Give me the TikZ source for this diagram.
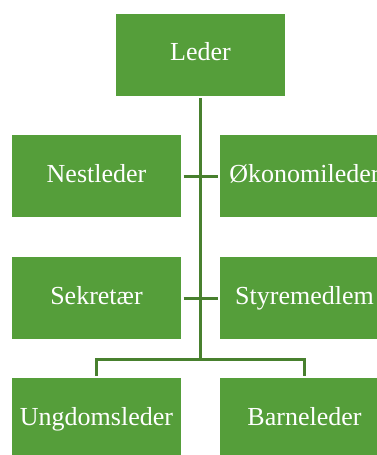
\documentclass[tikz,border=0pt]{standalone}
\usepackage{fontspec}
\setmainfont{Liberation Serif}
\usepackage{xcolor}
\usepackage{tikz}
\usetikzlibrary{positioning}

\definecolor{boxgreen}{RGB}{85,158,58}
\definecolor{linegreen}{RGB}{72,128,46}

\begin{document}
\begin{tikzpicture}[x=1pt,y=-1pt,
  rolle/.style={rectangle,fill=boxgreen,text=white,minimum width=169pt,minimum height=82pt,
    inner sep=0pt,outer sep=2.5pt,text height=17pt,text depth=5pt,
    font=\rmfamily\fontsize{26}{30}\selectfont},
  kobling/.style={linegreen,line width=3pt}]
  \useasboundingbox (0,0) rectangle (377,455);
  \node[rolle] (leder) at (200.5,54.5) {Leder};
  \node[rolle] (nest) at (96.5,176) {Nestleder};
  \node[rolle] (oko) at (304.5,176) {Økonomileder};
  \node[rolle] (sekr) at (96.5,298) {Sekretær};
  \node[rolle] (styre) at (304.5,298) {Styremedlem};
  \node[rolle] (ung) at (96.5,419) {Ungdomsleder};
  \node[rolle] (barn) at (304.5,419) {Barneleder};
  \coordinate (hub) at (leder.south |- 0,359);
  \draw[kobling] (leder.south) -- (hub); % stammen ned fra lederen
  \foreach \a/\b in {nest/oko,sekr/styre}
  \draw[kobling] (\a.east) -- (\b.west);
  \draw[kobling] (ung.north) |- (hub) -| (barn.north);
\end{tikzpicture}
\end{document}
